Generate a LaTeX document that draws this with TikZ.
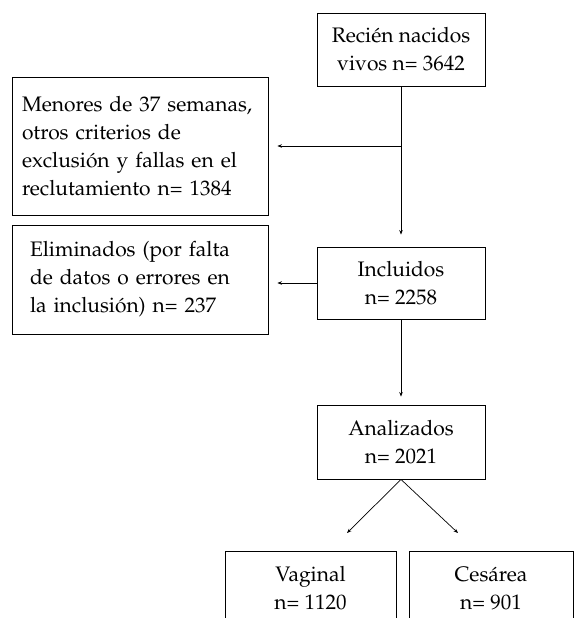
\documentclass[tikz,border=0pt]{standalone}
\usepackage[T1]{fontenc}
\usepackage{mathpazo}
\usetikzlibrary{arrows.meta,calc}
\begin{document}
\begin{tikzpicture}[x=1pt,y=-1pt,
  every node/.style={font=\fontsize{21}{28}\selectfont},
  box/.style={draw,line width=0.9pt,inner sep=0pt,align=center},
  lbox/.style={draw,line width=0.9pt,inner ysep=0pt,align=left},
  conn/.style={line width=0.7pt,-{Stealth[length=4.5pt,width=3.5pt]}}]
\useasboundingbox (0,0) rectangle (578,618);
\clip (0,0) rectangle (578,618);
\node[box,minimum width=168pt,minimum height=73pt] (top) at (401,49.5) {Reci\'en nacidos\\vivos n= 3642};
\node[lbox,text width=236pt,inner xsep=10pt,minimum height=138pt] (men) at (140,146)
  {\mbox{Menores de 37 semanas,}\\\mbox{otros criterios de}\\\mbox{exclusi\'on y fallas en el}\\\mbox{reclutamiento n= 1384}};
\node[lbox,text width=220pt,inner xsep=18pt,minimum height=109pt] (elim) at (140,279.5)
  {\mbox{Eliminados (por falta}\\\mbox{de datos o errores en}\\\mbox{la inclusi\'on) n= 237}};
\node[box,minimum width=168pt,minimum height=72pt] (incl) at (401,283) {Incluidos\\n= 2258};
\node[box,minimum width=168pt,minimum height=74pt] (anal) at (401,442) {Analizados\\n= 2021};
\node[box,minimum width=171pt,minimum height=74pt] (vag) at (310.5,588) {Vaginal\\n= 1120};
\node[box,minimum width=164pt,minimum height=74pt] (ces) at (491,588) {Ces\'area\\n= 901};
\coordinate (j1) at (top.south |- men.east);
\coordinate (j2) at (incl.west -| elim.east);
\coordinate (t1) at (347,533);
\coordinate (t2) at (458,533);
\draw[conn,shorten >=12pt] (top.south) -- (incl.north);
\draw[conn,shorten >=9pt] (j1) -- (men.east);
\draw[conn,shorten >=9pt] (incl.west) -- (j2);
\draw[conn,shorten >=8pt] (incl.south) -- (anal.north);
\draw[conn] (anal.south) -- (t1);
\draw[conn] (anal.south) -- (t2);
\end{tikzpicture}
\end{document}
